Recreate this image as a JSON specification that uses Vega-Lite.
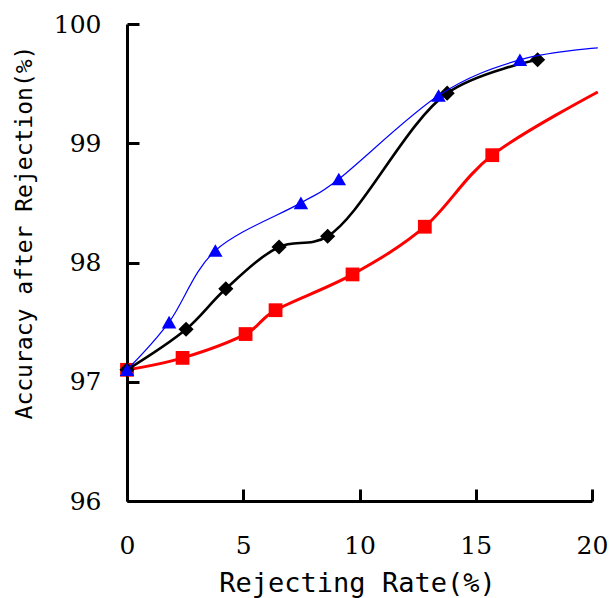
{
  "$schema": "https://vega.github.io/schema/vega-lite/v6.json",
  "width": 465,
  "height": 477,
  "autosize": "none",
  "padding": {"left": 127, "top": 24, "right": 19, "bottom": 97},
  "background": "white",
  "config": {"view": {"stroke": null}},
  "data": {
    "values": [
      {"series": "red", "rate": 0, "acc": 97.1},
      {"series": "red", "rate": 2.39, "acc": 97.2},
      {"series": "red", "rate": 5.1, "acc": 97.4},
      {"series": "red", "rate": 6.39, "acc": 97.6},
      {"series": "red", "rate": 9.7, "acc": 97.9},
      {"series": "red", "rate": 12.81, "acc": 98.3},
      {"series": "red", "rate": 15.71, "acc": 98.9},
      {"series": "red", "rate": 20.25, "acc": 99.43},
      {"series": "black", "rate": 0, "acc": 97.1},
      {"series": "black", "rate": 2.54, "acc": 97.44},
      {"series": "black", "rate": 4.25, "acc": 97.78},
      {"series": "black", "rate": 6.54, "acc": 98.13},
      {"series": "black", "rate": 8.63, "acc": 98.22},
      {"series": "black", "rate": 13.77, "acc": 99.42},
      {"series": "black", "rate": 17.66, "acc": 99.7},
      {"series": "blue", "rate": 0, "acc": 97.1},
      {"series": "blue", "rate": 1.81, "acc": 97.5},
      {"series": "blue", "rate": 3.8, "acc": 98.1},
      {"series": "blue", "rate": 7.48, "acc": 98.5},
      {"series": "blue", "rate": 9.11, "acc": 98.7},
      {"series": "blue", "rate": 13.4, "acc": 99.4},
      {"series": "blue", "rate": 16.9, "acc": 99.7},
      {"series": "blue", "rate": 20.25, "acc": 99.8}
    ]
  },
  "encoding": {
    "x": {
      "field": "rate",
      "type": "quantitative",
      "scale": {"domain": [0, 20], "nice": false, "zero": false},
      "axis": {
        "values": [0, 5, 10, 15, 20],
        "format": "d",
        "grid": false,
        "labelFlush": false,
        "labelOverlap": false,
        "labelFont": "DejaVu Serif",
        "labelFontSize": 25,
        "labelColor": "black",
        "labelPadding": 44,
        "tickSize": -12,
        "tickWidth": 3,
        "tickColor": "black",
        "domainColor": "black",
        "domainWidth": 3,
        "title": "Rejecting Rate(%)",
        "titleFont": "DejaVu Sans Mono",
        "titleFontSize": 27,
        "titleFontWeight": "normal",
        "titleColor": "black",
        "titleX": 230,
        "titleY": 90,
        "titleAlign": "center",
        "titleBaseline": "alphabetic"
      }
    },
    "y": {
      "field": "acc",
      "type": "quantitative",
      "scale": {"domain": [96, 100], "nice": false, "zero": false},
      "axis": {
        "values": [96, 97, 98, 99, 100],
        "format": "d",
        "grid": false,
        "labelOverlap": false,
        "labelFlush": false,
        "labelFont": "DejaVu Serif",
        "labelFontSize": 25,
        "labelColor": "black",
        "labelPadding": 38,
        "tickSize": -12,
        "tickWidth": 3,
        "tickColor": "black",
        "domainColor": "black",
        "domainWidth": 3,
        "title": "Accuracy after Rejection(%)",
        "titleFont": "DejaVu Sans Mono",
        "titleFontSize": 23,
        "titleFontWeight": "normal",
        "titleColor": "black",
        "titleX": -96,
        "titleY": 208,
        "titleAngle": -90,
        "titleAlign": "center",
        "titleBaseline": "alphabetic"
      }
    }
  },
  "layer": [
    {
      "transform": [{"filter": "datum.series === 'red'"}],
      "mark": {"type": "line", "color": "#ff0000", "strokeWidth": 3, "interpolate": "cardinal", "clip": false}
    },
    {
      "transform": [{"filter": "datum.series === 'red' && datum.rate <= 20"}],
      "mark": {"type": "point", "shape": "square", "filled": true, "color": "#ff0000", "size": 190, "opacity": 1}
    },
    {
      "transform": [{"filter": "datum.series === 'black'"}],
      "mark": {"type": "line", "color": "black", "strokeWidth": 2.6, "interpolate": "catmull-rom", "clip": false}
    },
    {
      "transform": [{"filter": "datum.series === 'black'"}],
      "mark": {"type": "point", "shape": "diamond", "filled": true, "color": "black", "size": 230, "opacity": 1}
    },
    {
      "transform": [{"filter": "datum.series === 'blue'"}],
      "mark": {"type": "line", "color": "#0000ff", "strokeWidth": 1.2, "interpolate": "cardinal", "clip": false}
    },
    {
      "transform": [{"filter": "datum.series === 'blue' && datum.rate <= 20"}],
      "mark": {"type": "point", "shape": "triangle-up", "filled": true, "color": "#0000ff", "size": 210, "opacity": 1}
    }
  ]
}
